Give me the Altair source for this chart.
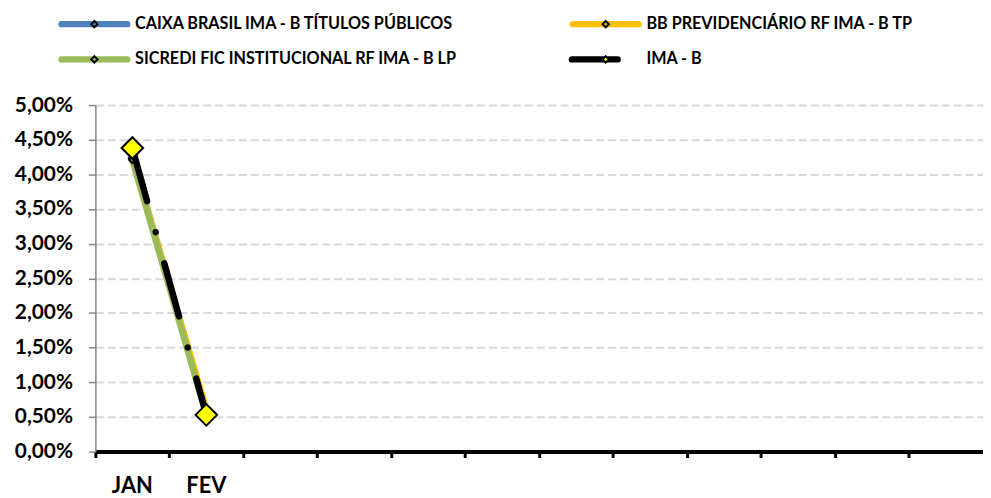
import altair as alt
import pandas as pd

# ---------------- data ----------------
MONTHS = ["JAN", "FEV", "MAR", "ABR", "MAI", "JUN", "JUL", "AGO", "SET", "OUT", "NOV", "DEZ"]
SHOWN_MONTHS = ["JAN", "FEV"]

SERIES = [
    "CAIXA BRASIL IMA - B TÍTULOS PÚBLICOS",
    "BB PREVIDENCIÁRIO RF IMA - B TP",
    "SICREDI FIC INSTITUCIONAL RF IMA - B LP",
    "IMA - B",
]
CAIXA = [4.24, 0.58]
BB = [4.23, 0.61]
SICREDI = [4.21, 0.53]
IMAB = [4.38, 0.53]

Y_TICKS = [0.0, 0.5, 1.0, 1.5, 2.0, 2.5, 3.0, 3.5, 4.0, 4.5, 5.0]

COLORS = ["#4F81BD", "#FFC000", "#9BBB59", "#000000"]
MARKER_FILL = ["#4F81BD", "#FFC000", "#9BBB59", "#FFFF00"]

values = [CAIXA, BB, SICREDI, IMAB]
rows = []
for s, vals in zip(SERIES, values):
    for m, v in zip(MONTHS, vals):
        rows.append({"serie": s, "mes": m, "valor": v})
df = pd.DataFrame(rows)

leg_df = pd.DataFrame({
    "serie": SERIES,
    "col": [i % 2 for i in range(len(SERIES))],
    "row": [i // 2 for i in range(len(SERIES))],
})

FONT = "Lato"
W = 894
H = 349

shown = ",".join("'%s'" % m for m in SHOWN_MONTHS)

x_enc = alt.X(
    "mes:N",
    scale=alt.Scale(type="band", domain=MONTHS, paddingInner=0, paddingOuter=0),
    axis=alt.Axis(
        title=None,
        bandPosition=0,
        labelExpr="indexof([%s], datum.value) >= 0 ? datum.value : ''" % shown,
        labelAngle=0,
        labelFont=FONT,
        labelFontSize=22,
        labelFontWeight="bold",
        labelColor="#000000",
        labelPadding=18,
        domainColor="#000000",
        domainWidth=4,
        tickColor="#000000",
        tickWidth=3,
        tickSize=6,
        grid=False,
    ),
)
y_enc = alt.Y(
    "valor:Q",
    scale=alt.Scale(domain=[0, 5], nice=False, zero=True),
    axis=alt.Axis(
        title=None,
        values=Y_TICKS,
        labelExpr="replace(format(datum.value, '.2f'), '.', ',') + '%'",
        labelFont=FONT,
        labelFontSize=21,
        labelFontWeight="bold",
        labelColor="#000000",
        labelPadding=16,
        domainColor="#868686",
        domainWidth=1.5,
        tickColor="#868686",
        tickWidth=1.5,
        tickSize=7,
        grid=True,
        gridColor="#D9D9D9",
        gridDash=[8, 4],
        gridWidth=2,
        minExtent=83,
        maxExtent=83,
    ),
)

base = alt.Chart(df).encode(x=x_enc, y=y_enc)

layers = []
for i, s in enumerate(SERIES):
    sub = base.transform_filter(alt.datum.serie == s)
    if s == "IMA - B":
        line = sub.mark_line(
            color=COLORS[i], strokeWidth=6.5, strokeCap="round",
            strokeDash=[55.5, 32.5, 0.01, 32.5],
        )
        pts = sub.mark_point(
            shape="diamond", size=470, filled=True, fill=MARKER_FILL[i],
            stroke="#000000", strokeWidth=2, opacity=1,
        )
    else:
        line = sub.mark_line(color=COLORS[i], strokeWidth=6.5, strokeCap="round")
        pts = sub.mark_point(
            shape="diamond", size=45, filled=True, fill=MARKER_FILL[i],
            stroke="#000000", strokeWidth=2, opacity=1,
        )
    layers += [line, pts]

main = alt.layer(*layers).properties(width=W, height=H)

# ---------------- legend ----------------
lx = alt.X("col:Q", scale=alt.Scale(domain=[0, 1], range=[-37, 478]), axis=None)
ly = alt.Y("row:Q", scale=alt.Scale(domain=[0, 1], range=[9.5, 45]), axis=None)
col_enc = alt.Color("serie:N", scale=alt.Scale(domain=SERIES, range=COLORS), legend=None)
fill_enc = alt.Fill("serie:N", scale=alt.Scale(domain=SERIES, range=MARKER_FILL), legend=None)

lbase = alt.Chart(leg_df).encode(x=lx, y=ly)
leg_funds = lbase.transform_filter(alt.datum.serie != "IMA - B").mark_rule(
    strokeWidth=6.5, strokeCap="round", xOffset=3, x2Offset=69
).encode(x2="col:Q", color=col_enc)
leg_idx = lbase.transform_filter(alt.datum.serie == "IMA - B").mark_rule(
    strokeWidth=6.5, strokeCap="round", xOffset=2, x2Offset=48
).encode(x2="col:Q", color=col_enc)
leg_pts = lbase.mark_point(
    shape="diamond", size=40, filled=True, stroke="#000000", strokeWidth=2,
    opacity=1, xOffset=36,
).encode(fill=fill_enc)
leg_txt = lbase.mark_text(
    align="left", baseline="middle", dx=77, font=FONT, fontSize=16.3,
    fontWeight="bold", color="#000000",
).encode(text="serie:N")

legend = alt.layer(leg_funds, leg_idx, leg_pts, leg_txt).properties(width=W, height=60)

chart = alt.vconcat(legend, main, spacing=20).properties(
    padding={"left": 5, "top": 5, "right": 0, "bottom": 0},
    background="#FFFFFF",
).configure_view(stroke=None).resolve_scale(color="independent", fill="independent")

chart.save("out.html", embed_options={"renderer": "svg", "actions": False})
